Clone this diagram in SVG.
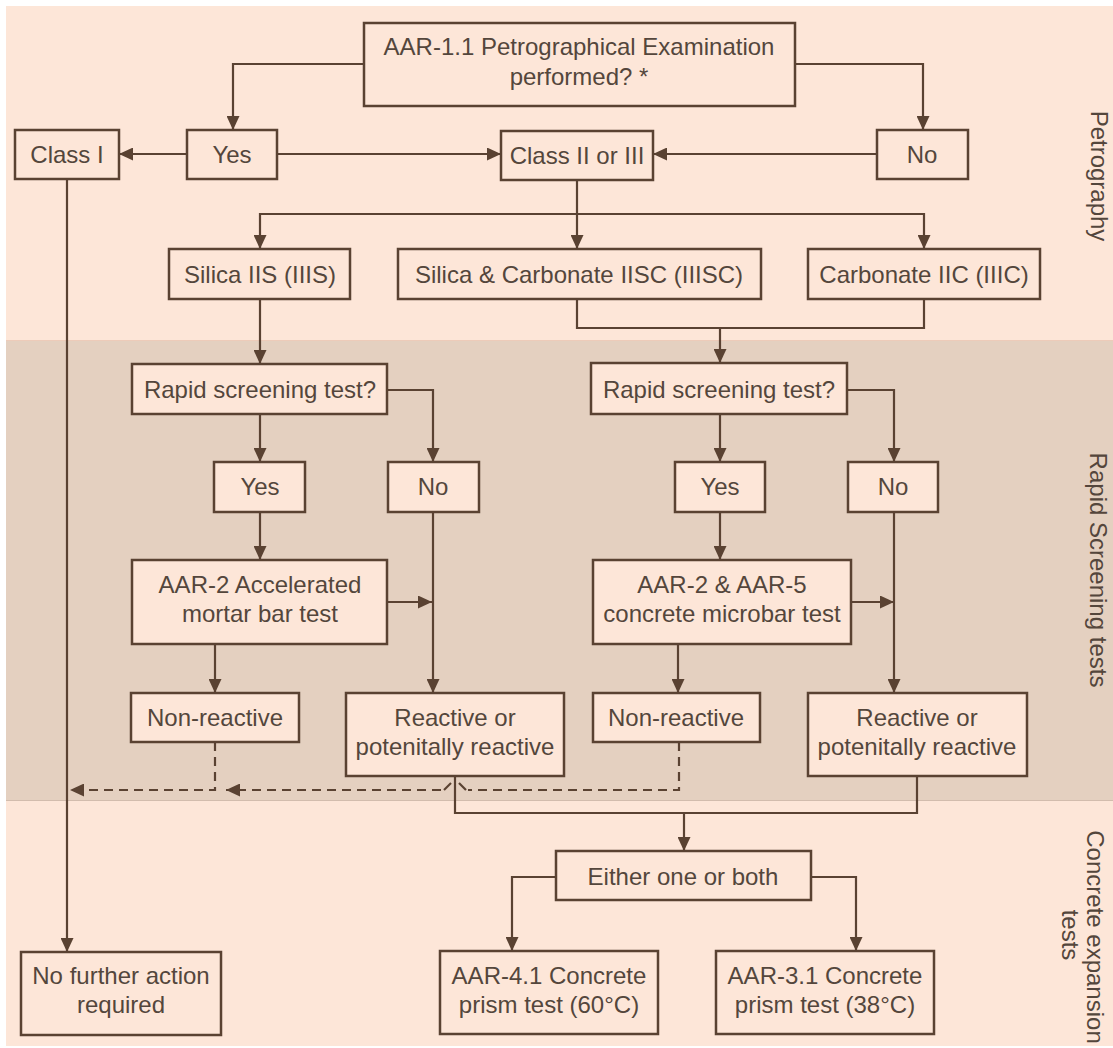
<svg xmlns="http://www.w3.org/2000/svg" width="1113" height="1048" viewBox="0 0 1113 1048">
<defs>
<style>
.bg{fill:#FDE6D8}
.band{fill:#E4D0C0}
.n rect{fill:#FDE6D8;stroke:#5A4232;stroke-width:2.5}
text{font-family:"Liberation Sans",Arial,sans-serif;font-size:24px;fill:#54463C;text-anchor:middle}
.c path{fill:none;stroke:#5A4232;stroke-width:2.2}
.c .a{marker-end:url(#ah)}
.c .d{stroke-dasharray:9 6}
</style>
<marker id="ah" markerUnits="userSpaceOnUse" markerWidth="14" markerHeight="13" refX="14" refY="6.5" orient="auto">
<path d="M0,0 L14,6.5 L0,13 z" fill="#5A4232"/>
</marker>
</defs>
<rect x="0" y="0" width="1113" height="1048" fill="#FFFFFF"/>
<rect class="bg" x="6" y="6" width="1107" height="1040"/>
<rect class="band" x="6" y="340" width="1107" height="460"/>
<line x1="6" y1="340.5" x2="1113" y2="340.5" stroke="#EDCBB9" stroke-width="1"/>
<line x1="6" y1="800.5" x2="1113" y2="800.5" stroke="#D2BCAD" stroke-width="1"/>

<g id="lanes">
<text transform="translate(1091,176) rotate(90)">Petrography</text>
<text transform="translate(1090,570) rotate(90)">Rapid Screening tests</text>
<text transform="translate(1087,937) rotate(90)">Concrete expansion</text>
<text transform="translate(1062,935) rotate(90)">tests</text>
</g>

<g id="connectors" class="c">
<path class="a" d="M364,64 H233 V130"/>
<path class="a" d="M795,64 H923 V130"/>
<path class="a" d="M187,154 H119"/>
<path class="a" d="M277,154 H501"/>
<path class="a" d="M877,154 H653"/>
<path class="a" d="M577,180 V249"/>
<path class="a" d="M577,214 H260 V249"/>
<path class="a" d="M577,214 H924 V249"/>
<path class="a" d="M67,179 V952"/>
<path class="a" d="M260,299 V364"/>
<path d="M577,299 V328 H924 V299"/>
<path class="a" d="M720,328 V363"/>
<path class="a" d="M260,414 V462"/>
<path class="a" d="M387,390 H433 V462"/>
<path class="a" d="M260,512 V560"/>
<path class="a" d="M387,602 H432"/>
<path class="a" d="M433,512 V693"/>
<path class="a" d="M215,644 V693"/>
<path class="a" d="M720,414 V462"/>
<path class="a" d="M847,390 H894 V462"/>
<path class="a" d="M720,512 V560"/>
<path class="a" d="M851,602 H894"/>
<path class="a" d="M894,512 V693"/>
<path class="a" d="M678,644 V693"/>
<path d="M455,776 V813 H917 V776"/>
<path class="a" d="M684,813 V851"/>
<path class="a" d="M556,877 H512 V951"/>
<path class="a" d="M811,877 H856 V951"/>
<path class="a d" d="M215,742 V790 H70"/>
<path class="d" d="M679,742 V790 H468"/>
<path d="M466,790 L459,783"/>
<path d="M451,783 L444,790"/>
<path class="a d" d="M441,790 H226"/>
</g>

<g id="n-top" class="n"><rect x="364" y="23" width="431" height="83"/><text x="579" y="55">AAR-1.1 Petrographical Examination</text><text x="579" y="85">performed? *</text></g>
<g id="n-class1" class="n"><rect x="15" y="130" width="104" height="49"/><text x="67" y="163">Class I</text></g>
<g id="n-yes0" class="n"><rect x="187" y="130" width="90" height="49"/><text x="232" y="163">Yes</text></g>
<g id="n-class23" class="n"><rect x="501" y="131" width="152" height="49"/><text x="577" y="164">Class II or III</text></g>
<g id="n-no0" class="n"><rect x="877" y="130" width="91" height="49"/><text x="922" y="163">No</text></g>
<g id="n-silica" class="n"><rect x="169" y="249" width="181" height="50"/><text x="260" y="283">Silica IIS (IIIS)</text></g>
<g id="n-silcarb" class="n"><rect x="398" y="249" width="363" height="50"/><text x="579" y="283">Silica &amp; Carbonate IISC (IIISC)</text></g>
<g id="n-carb" class="n"><rect x="808" y="249" width="232" height="50"/><text x="924" y="283">Carbonate IIC (IIIC)</text></g>
<g id="n-rapid1" class="n"><rect x="132" y="364" width="255" height="50"/><text x="260" y="398">Rapid screening test?</text></g>
<g id="n-rapid2" class="n"><rect x="591" y="363" width="256" height="51"/><text x="719" y="398">Rapid screening test?</text></g>
<g id="n-yes1" class="n"><rect x="214" y="462" width="91" height="50"/><text x="260" y="495">Yes</text></g>
<g id="n-no1" class="n"><rect x="388" y="462" width="91" height="50"/><text x="433" y="495">No</text></g>
<g id="n-yes2" class="n"><rect x="675" y="462" width="90" height="50"/><text x="720" y="495">Yes</text></g>
<g id="n-no2" class="n"><rect x="848" y="462" width="90" height="50"/><text x="893" y="495">No</text></g>
<g id="n-aar2" class="n"><rect x="132" y="560" width="255" height="84"/><text x="260" y="593">AAR-2 Accelerated</text><text x="260" y="622">mortar bar test</text></g>
<g id="n-aar25" class="n"><rect x="593" y="560" width="258" height="84"/><text x="722" y="593">AAR-2 &amp; AAR-5</text><text x="722" y="622">concrete microbar test</text></g>
<g id="n-nonreact1" class="n"><rect x="131" y="693" width="168" height="49"/><text x="215" y="726">Non-reactive</text></g>
<g id="n-react1" class="n"><rect x="346" y="693" width="218" height="83"/><text x="455" y="726">Reactive or</text><text x="455" y="755">potenitally reactive</text></g>
<g id="n-nonreact2" class="n"><rect x="593" y="693" width="167" height="49"/><text x="676" y="726">Non-reactive</text></g>
<g id="n-react2" class="n"><rect x="808" y="693" width="219" height="83"/><text x="917" y="726">Reactive or</text><text x="917" y="755">potenitally reactive</text></g>
<g id="n-either" class="n"><rect x="556" y="851" width="255" height="49"/><text x="683" y="885">Either one or both</text></g>
<g id="n-nofurther" class="n"><rect x="21" y="952" width="200" height="83"/><text x="121" y="984">No further action</text><text x="121" y="1013">required</text></g>
<g id="n-aar41" class="n"><rect x="440" y="951" width="218" height="83"/><text x="549" y="984">AAR-4.1 Concrete</text><text x="549" y="1013">prism test (60°C)</text></g>
<g id="n-aar31" class="n"><rect x="716" y="951" width="218" height="83"/><text x="825" y="984">AAR-3.1 Concrete</text><text x="825" y="1013">prism test (38°C)</text></g>
</svg>
